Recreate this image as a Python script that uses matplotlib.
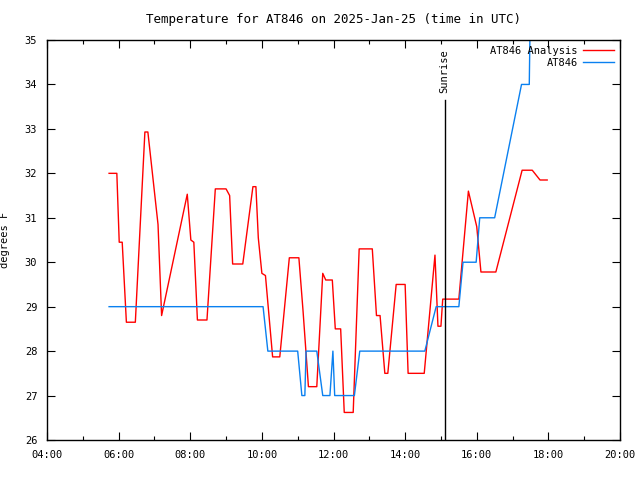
import pandas as pd
import numpy as np
import matplotlib
matplotlib.use("Agg")
import matplotlib.pyplot as plt
import matplotlib.dates as mdates

# -------------------------------------------------------------------------
# data (times UTC, 2025-01-25)
# -------------------------------------------------------------------------
day = "2025-01-25 "

analysis_times = ["05:44", "05:57", "06:01", "06:06", "06:13", "06:28", "06:44", "06:49",
                  "07:06", "07:12", "07:55", "08:01", "08:06", "08:12", "08:28", "08:42",
                  "09:00", "09:06", "09:11", "09:28", "09:45", "09:50", "09:54", "10:00",
                  "10:06", "10:18", "10:30", "10:46", "11:02", "11:09", "11:18", "11:32",
                  "11:42", "11:47", "11:58", "12:03", "12:12", "12:18", "12:33", "12:43",
                  "13:05", "13:12", "13:18", "13:26", "13:31", "13:45", "14:00", "14:05",
                  "14:32", "14:50", "14:55", "15:00", "15:03", "15:30", "15:46", "16:00",
                  "16:07", "16:32", "17:16", "17:33", "17:46", "17:58"]
analysis_temps = [32.0, 32.0, 30.45, 30.45, 28.65, 28.65, 32.93, 32.93,
                  30.85, 28.8, 31.53, 30.5, 30.45, 28.7, 28.7, 31.65,
                  31.65, 31.5, 29.96, 29.96, 31.7, 31.7, 30.55, 29.75,
                  29.7, 27.87, 27.87, 30.1, 30.1, 28.9, 27.2, 27.2,
                  29.75, 29.6, 29.6, 28.5, 28.5, 26.62, 26.62, 30.3,
                  30.3, 28.8, 28.8, 27.5, 27.5, 29.5, 29.5, 27.5,
                  27.5, 30.16, 28.56, 28.56, 29.17, 29.17, 31.6, 30.8,
                  29.78, 29.78, 32.07, 32.07, 31.85, 31.85]

obs_times = ["05:44", "10:02", "10:10", "11:00", "11:07", "11:12", "11:14", "11:32",
             "11:42", "11:54", "11:59", "12:02", "12:35", "12:44", "14:33", "14:52",
             "15:30", "15:37", "15:59", "16:05", "16:30", "17:15", "17:28", "17:30"]
obs_temps = [29.0, 29.0, 28.0, 28.0, 27.0, 27.0, 28.0, 28.0,
             27.0, 27.0, 28.0, 27.0, 27.0, 28.0, 28.0, 29.0,
             29.0, 30.0, 30.0, 31.0, 31.0, 34.0, 34.0, 36.0]

sunrise = "15:06"
x_range = ("04:00", "20:00")
y_range = (26, 35)

t_an = pd.to_datetime([day + t for t in analysis_times])
t_ob = pd.to_datetime([day + t for t in obs_times])
t_sr = pd.to_datetime(day + sunrise)
t_lo, t_hi = pd.to_datetime([day + t for t in x_range])

plt.rcParams['font.family'] = ['DejaVu Sans Mono']
plt.rcParams['font.size'] = 7.5

fig = plt.figure(figsize=(6.4, 4.8), dpi=100)
ax = fig.add_axes([47 / 640, 1 - 440 / 480, 573 / 640, 400 / 480])

ax.plot(t_an, analysis_temps, color='#ff0000', lw=1.0, label='AT846 Analysis')
ax.plot(t_ob, obs_temps, color='#0a80f0', lw=1.0, label='AT846')

ax.axvline(t_sr, ymax=(33.65 - y_range[0]) / (y_range[1] - y_range[0]), color='black', lw=1.0)
ax.text(t_sr, 33.8, 'Sunrise', rotation=90, ha='center', va='bottom')

ax.set_xlim(t_lo, t_hi)
ax.set_ylim(*y_range)
ax.xaxis.set_major_locator(mdates.HourLocator(byhour=range(0, 24, 2)))
ax.xaxis.set_minor_locator(mdates.HourLocator())
ax.xaxis.set_major_formatter(mdates.DateFormatter('%H:%M'))
ax.set_yticks(np.arange(y_range[0], y_range[1] + 1, 1))

ax.tick_params(which='both', direction='in', top=True, right=True, width=0.8)
ax.tick_params(which='major', length=6, pad=7)
ax.tick_params(which='minor', length=3)
for s in ax.spines.values():
    s.set_linewidth(1.0)

ax.set_ylabel('degrees F')
ax.yaxis.set_label_coords(-37 / 573, 0.5)
ax.set_title('Temperature for AT846 on 2025-Jan-25 (time in UTC)', pad=12)

leg = ax.legend(loc='upper right', frameon=False, markerfirst=False, handlelength=3.0,
                borderaxespad=0.15, labelspacing=0.2, handletextpad=0.5)
for txt in leg.get_texts():
    txt.set_ha('right')
leg._legend_box.align = 'right'

fig.savefig('out.png', dpi=100)
